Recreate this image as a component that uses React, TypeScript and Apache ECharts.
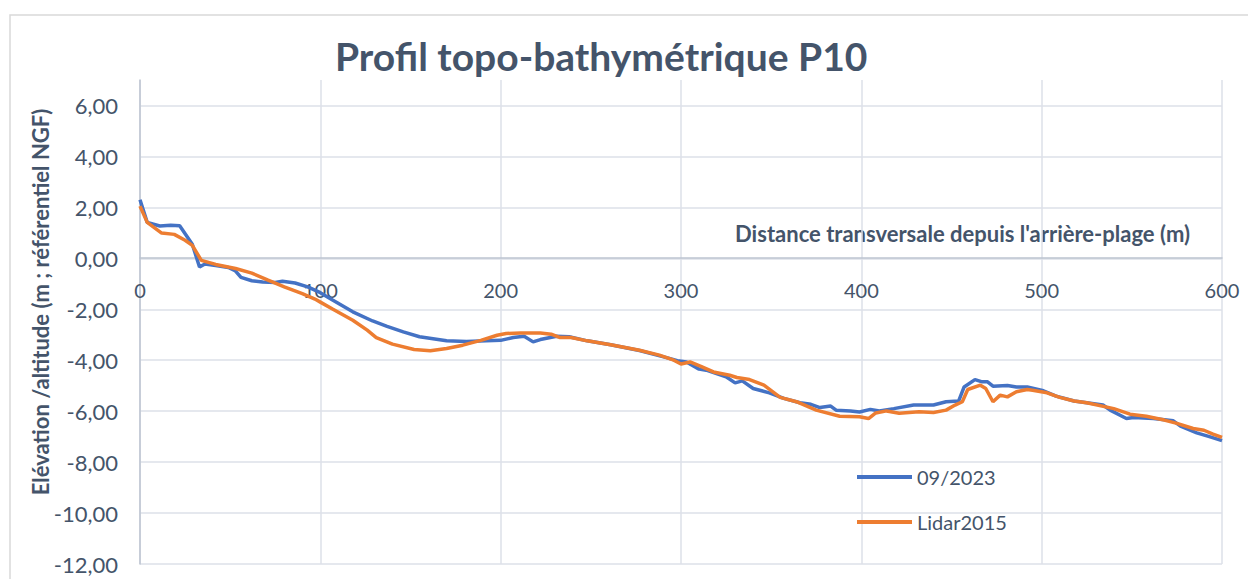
import React, { useEffect, useRef } from "react";
import * as echarts from "echarts";

const title = "Profil topo-bathymétrique P10";
const xAxisName = "Distance transversale depuis l'arrière-plage (m)";
const yAxisName = "Elévation /altitude (m ; référentiel NGF)";
const seriesNames = ["09/2023", "Lidar2015"];

const surveyDist = [0, 4, 11, 17, 22, 29, 33, 36, 42, 49, 53, 56, 62, 68, 75, 79, 86, 93, 100, 107, 118, 129, 137, 146, 155, 170, 181, 192, 200, 207, 213, 218, 222, 231, 238, 248, 261, 277, 292, 298, 303, 310, 314, 325, 330, 334, 340, 349, 357, 366, 372, 377, 383, 386, 394, 399, 405, 410, 418, 429, 440, 447, 454, 457, 463, 467, 470, 473, 481, 486, 492, 501, 508, 518, 525, 534, 538, 547, 551, 562, 573, 577, 586, 593, 600];
const surveyElev = [2.3, 1.41, 1.27, 1.3, 1.28, 0.55, -0.34, -0.22, -0.28, -0.36, -0.5, -0.75, -0.88, -0.93, -0.95, -0.9, -0.97, -1.12, -1.35, -1.65, -2.1, -2.46, -2.67, -2.89, -3.08, -3.24, -3.27, -3.24, -3.22, -3.11, -3.06, -3.28, -3.19, -3.06, -3.08, -3.24, -3.39, -3.62, -3.9, -4.02, -4.07, -4.35, -4.39, -4.65, -4.89, -4.81, -5.11, -5.28, -5.5, -5.67, -5.73, -5.86, -5.8, -5.96, -5.99, -6.03, -5.93, -5.99, -5.9, -5.76, -5.76, -5.63, -5.6, -5.05, -4.76, -4.85, -4.85, -5.02, -4.99, -5.05, -5.05, -5.2, -5.41, -5.6, -5.67, -5.76, -5.96, -6.29, -6.25, -6.29, -6.38, -6.59, -6.85, -7.0, -7.16];

const lidarDist = [0, 4, 12, 19, 25, 29, 34, 42, 53, 62, 71, 80, 90, 97, 100, 107, 118, 126, 131, 140, 152, 161, 170, 179, 189, 198, 203, 211, 222, 228, 233, 239, 248, 261, 277, 288, 296, 300, 305, 311, 318, 327, 331, 338, 346, 355, 364, 375, 388, 399, 404, 408, 414, 421, 432, 440, 447, 452, 456, 459, 466, 469, 473, 477, 481, 486, 492, 495, 503, 510, 518, 525, 540, 549, 558, 568, 575, 584, 590, 595, 600];
const lidarElev = [2.05, 1.41, 0.99, 0.94, 0.71, 0.51, -0.08, -0.24, -0.4, -0.58, -0.86, -1.12, -1.39, -1.6, -1.72, -2.0, -2.43, -2.82, -3.11, -3.37, -3.58, -3.63, -3.54, -3.41, -3.22, -3.02, -2.95, -2.93, -2.93, -2.98, -3.11, -3.11, -3.24, -3.39, -3.61, -3.8, -4.0, -4.15, -4.07, -4.24, -4.46, -4.59, -4.68, -4.76, -4.98, -5.46, -5.63, -5.96, -6.2, -6.22, -6.29, -6.07, -5.99, -6.08, -6.02, -6.05, -5.96, -5.76, -5.63, -5.15, -4.98, -5.11, -5.63, -5.37, -5.44, -5.24, -5.15, -5.18, -5.28, -5.46, -5.6, -5.67, -5.9, -6.12, -6.2, -6.35, -6.48, -6.68, -6.75, -6.9, -7.03];

const TEXT = "#44546a";
const FONT = "Lato, 'Open Sans', sans-serif";

// grid geometry: top=80 (value 7), bottom=564 (value -12) -> zero line offset from bottom
const GRID_TOP = 80;
const GRID_BOTTOM_PX = 564;
const ZERO_OFFSET = -Math.round((12 * (GRID_BOTTOM_PX - GRID_TOP)) / 19);

export default function App() {
  const ref = useRef<HTMLDivElement>(null);
  useEffect(() => {
    if (!ref.current) return;
    const chart = echarts.init(ref.current, null, { renderer: "svg" });
    const pair = (xs: number[], ys: number[]) => xs.map((x, i) => [x, ys[i]]);
    chart.setOption({
      animation: false,
      textStyle: { fontFamily: FONT },
      title: {
        text: title,
        left: 330,
        top: 31,
        textStyle: { fontFamily: FONT, fontSize: 39, fontWeight: "bold", color: TEXT },
      },
      grid: {
        left: 140,
        right: 26,
        top: GRID_TOP,
        bottom: 579 - GRID_BOTTOM_PX,
        containLabel: false,
        outerBoundsMode: "none",
      },
      legend: {
        orient: "vertical",
        left: 852,
        top: 462,
        itemGap: 25,
        itemWidth: 55,
        itemHeight: 4,
        icon: "rect",
        data: seriesNames,
        textStyle: { fontFamily: FONT, fontSize: 20, color: TEXT },
      },
      xAxis: {
        type: "value",
        min: 0,
        max: 600,
        interval: 100,
        position: "bottom",
        offset: ZERO_OFFSET,
        axisLine: { show: true, onZero: false, lineStyle: { color: "#bcc4d0", width: 1.5 } },
        axisTick: { show: false },
        axisLabel: { margin: 22, fontSize: 20, color: TEXT, fontFamily: FONT },
        splitLine: { show: true, lineStyle: { color: "#dde1e8", width: 1.5 } },
      },
      yAxis: {
        type: "value",
        min: -12,
        max: 7,
        interval: 2,
        axisLine: { show: true, lineStyle: { color: "#bcc4d0", width: 1.5 } },
        axisTick: { show: false },
        axisLabel: {
          margin: 22,
          fontSize: 22,
          color: TEXT,
          fontFamily: FONT,
          showMaxLabel: false,
          formatter: (v: number) => (v > 6 ? "" : v.toFixed(2).replace(".", ",")),
        },
        splitLine: { show: true, showMaxLine: false, lineStyle: { color: "#dde1e8", width: 1.5 } },
      },
      graphic: [
        {
          type: "rect",
          shape: { x: 10, y: 15, width: 1400, height: 700 },
          style: { fill: "none", stroke: "#d9d9d9", lineWidth: 1.5 },
          silent: true,
          z: -10,
        },
        {
          type: "text",
          x: 1190,
          y: 233,
          style: {
            text: xAxisName,
            align: "right",
            verticalAlign: "middle",
            font: `bold 22px ${FONT}`,
            fill: TEXT,
          },
        },
        {
          type: "text",
          x: 40,
          y: 302,
          rotation: Math.PI / 2,
          style: {
            text: yAxisName,
            align: "center",
            verticalAlign: "middle",
            font: `bold 22px ${FONT}`,
            fill: TEXT,
          },
        },
      ],
      series: [
        {
          name: seriesNames[0],
          type: "line",
          data: pair(surveyDist, surveyElev),
          showSymbol: false,
          symbol: "none",
          lineStyle: { color: "#4472c4", width: 3.5 },
          itemStyle: { color: "#4472c4" },
          z: 2,
        },
        {
          name: seriesNames[1],
          type: "line",
          data: pair(lidarDist, lidarElev),
          showSymbol: false,
          symbol: "none",
          lineStyle: { color: "#ed7d31", width: 3.5 },
          itemStyle: { color: "#ed7d31" },
          z: 3,
        },
      ],
    });
    return () => chart.dispose();
  }, []);
  return <div ref={ref} style={{ width: 1248, height: 579, position: "absolute", left: 0, top: 0 }} />;
}
